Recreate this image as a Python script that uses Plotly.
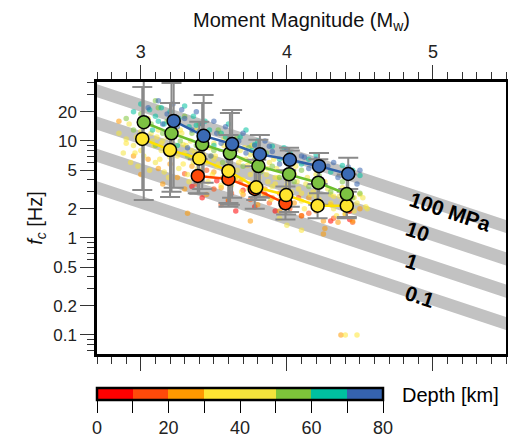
import numpy as np
import plotly.graph_objects as go

# ---- depth bins (km) and their colours ----
depth_edges = [0, 10, 20, 30, 40, 50, 60, 70, 80]
depth_colors = ["#FF0000", "#FF4A0A", "#FF9900", "#FFE633",
                "#F3E33C", "#7DC43A", "#00C1A0", "#3563AE"]

# ---- individual events: (Mw, fc [Hz]) per depth bin ----
ev_0_10 = [(3.35, 3.4), (3.42, 2.6), (3.52, 3.9), (3.6, 2.4), (3.7, 3.1), (3.78, 2.1),
           (3.85, 2.8), (3.92, 1.9), (4.0, 2.4), (4.1, 1.7), (4.2, 2.0), (4.3, 1.5),
           (4.43, 1.9), (4.43, 1.55), (3.65, 1.9)]
ev_10_20 = [(3.3, 4.6), (3.38, 3.6), (3.45, 5.0), (3.5, 3.2), (3.58, 4.4), (3.62, 2.9),
            (3.68, 3.8), (3.75, 2.5), (3.8, 3.4), (3.88, 2.3), (3.95, 2.9), (4.02, 2.0),
            (4.08, 2.6), (4.15, 1.8), (4.22, 2.2), (4.32, 1.6), (4.42, 1.9), (4.45, 1.45),
            (3.55, 2.2)]
ev_20_30 = [(2.85, 16), (2.95, 7), (3.0, 4.5), (3.05, 6.5), (3.12, 5.2), (3.15, 3.6),
            (3.2, 5.8), (3.25, 4.2), (3.3, 3.2), (3.35, 5.5), (3.4, 3.8), (3.45, 2.8),
            (3.5, 4.8), (3.55, 3.3), (3.6, 2.5), (3.65, 4.2), (3.7, 2.8), (3.75, 3.6),
            (3.8, 2.2), (3.85, 3.2), (3.9, 2.6), (3.95, 1.9), (4.0, 3.0), (4.05, 2.3),
            (4.1, 1.7), (4.15, 2.6), (4.2, 1.9), (4.25, 1.5), (4.3, 2.2), (4.35, 1.45),
            (4.4, 1.75), (4.45, 1.5), (4.5, 2.0), (3.32, 1.8), (3.75, 1.5), (4.37, 0.1),
            (4.26, 1.25), (4.25, 1.1)]
ev_30_40 = [(2.9, 9.5), (2.93, 6), (2.97, 11), (3.0, 8), (3.03, 14), (3.06, 5), (3.09, 9),
            (3.11, 11), (3.13, 6.5), (3.17, 8.5), (3.19, 4.2), (3.21, 10), (3.25, 7),
            (3.27, 13), (3.29, 5.8), (3.31, 9), (3.33, 3.8), (3.37, 7.5), (3.39, 5.2),
            (3.41, 10), (3.45, 6), (3.47, 8.5), (3.49, 4.5), (3.51, 7), (3.55, 3.5),
            (3.57, 9), (3.59, 5.2), (3.61, 7), (3.65, 4), (3.67, 6), (3.69, 3), (3.71, 8.5),
            (3.75, 4.5), (3.77, 6.2), (3.79, 3.3), (3.83, 5), (3.87, 3.8), (3.89, 2.5),
            (3.91, 6.5), (3.94, 4.2), (3.98, 3.2), (4.02, 2.2), (4.05, 4.6), (4.08, 3.2),
            (4.12, 2.0), (4.18, 3.0), (4.22, 2.5), (4.26, 3.8), (4.3, 2.3), (4.34, 1.7),
            (4.38, 3.3), (4.42, 2.4), (4.46, 1.9), (4.5, 2.8), (4.54, 2.1), (4.1, 1.2),
            (4.4, 0.1), (4.48, 0.1), (2.96, 7.5), (3.04, 10.5), (3.14, 9.5), (3.23, 8.2),
            (3.34, 6.8), (3.43, 7.2), (3.53, 5.8), (3.62, 5.2), (3.73, 5.6), (3.81, 4.2),
            (3.92, 3.6), (4.0, 3.5), (4.1, 2.9), (4.2, 2.7), (4.32, 2.7), (4.44, 2.1)]
ev_40_50 = [(2.85, 12), (2.88, 7.5), (2.92, 15), (2.95, 9), (2.98, 5.5), (3.0, 12.5),
            (3.02, 7), (3.05, 17), (3.08, 10), (3.1, 6), (3.12, 13), (3.14, 8), (3.16, 4.8),
            (3.18, 11), (3.2, 6.8), (3.22, 15), (3.24, 9), (3.26, 5.2), (3.28, 12),
            (3.3, 7.5), (3.32, 4.5), (3.34, 10), (3.36, 6), (3.38, 13), (3.4, 8.2),
            (3.42, 5), (3.44, 11), (3.46, 3.8), (3.48, 7), (3.5, 9.5), (3.52, 5.5),
            (3.54, 12), (3.56, 4.2), (3.58, 7.8), (3.6, 6), (3.62, 3.5), (3.64, 10),
            (3.66, 5), (3.68, 8), (3.7, 4), (3.72, 6.5), (3.74, 3.2), (3.76, 9), (3.78, 5),
            (3.8, 3.8), (3.82, 7), (3.84, 2.8), (3.86, 4.5), (3.88, 6), (3.9, 3.4),
            (3.93, 5.2), (3.96, 2.6), (4.0, 4), (4.03, 3), (4.06, 5.5), (4.1, 2.4),
            (4.13, 3.6), (4.16, 2.8), (4.2, 4.5), (4.24, 2.2), (4.28, 3.2), (4.32, 2.0),
            (4.36, 2.7), (4.4, 1.8), (4.44, 3.0), (4.48, 2.3), (4.52, 2.6), (4.55, 2.0),
            (4.0, 1.35), (3.95, 1.6), (2.9, 10.5), (3.0, 9.5), (3.07, 12), (3.15, 10),
            (3.23, 11.5), (3.29, 9.2), (3.35, 8), (3.43, 9), (3.5, 6.5), (3.57, 10.5),
            (3.63, 7.5), (3.69, 6.5), (3.75, 7.2), (3.81, 5.6), (3.87, 5.2), (3.92, 4.2),
            (3.99, 4.8), (4.07, 3.8), (4.14, 4.2), (4.22, 3.4), (4.3, 2.8), (4.38, 2.4),
            (4.46, 2.6)]
ev_50_60 = [(2.9, 17), (2.95, 13), (3.0, 19), (3.03, 11), (3.07, 15), (3.1, 9), (3.12, 22),
            (3.15, 12), (3.18, 16), (3.2, 8.5), (3.23, 14), (3.27, 10), (3.3, 18),
            (3.32, 7), (3.35, 12), (3.38, 9), (3.4, 15), (3.43, 6.5), (3.46, 11), (3.5, 8),
            (3.53, 13), (3.56, 6), (3.6, 9.5), (3.63, 7.2), (3.66, 11), (3.7, 5.5),
            (3.74, 8.5), (3.78, 6.5), (3.82, 4.8), (3.86, 7.5), (3.9, 5.5), (3.95, 4.2),
            (4.0, 6), (4.05, 3.8), (4.1, 5), (4.15, 3.4), (4.22, 4.4), (4.3, 3.0),
            (4.38, 3.8), (4.45, 2.6), (4.5, 2.9), (3.1, 26)]
ev_60_70 = [(2.95, 20), (3.0, 24), (3.02, 17), (3.06, 21), (3.08, 13), (3.1, 18),
            (3.14, 22), (3.16, 15), (3.2, 20), (3.22, 12.5), (3.26, 17), (3.3, 23),
            (3.33, 14), (3.36, 18), (3.4, 11), (3.44, 16), (3.47, 13), (3.5, 9), (3.55, 12),
            (3.6, 15), (3.64, 9.5), (3.68, 11), (3.72, 13), (3.76, 8), (3.8, 10),
            (3.85, 7.2), (3.9, 8.8), (3.95, 6.5), (4.02, 7.5), (4.1, 5.8), (4.2, 7.2),
            (4.3, 4.8), (4.45, 5.0), (4.5, 4.4), (3.25, 9), (3.12, 16), (3.38, 14.5),
            (3.58, 11), (3.78, 9.2), (3.98, 8.5), (4.15, 6.5), (4.38, 5.6)]
ev_70_80 = [(3.05, 22), (3.12, 26), (3.18, 19), (3.22, 24), (3.25, 14), (3.28, 21),
            (3.3, 17), (3.35, 13), (3.38, 20), (3.42, 15), (3.45, 11), (3.5, 16),
            (3.52, 12), (3.55, 9.5), (3.58, 14), (3.62, 10.5), (3.65, 8.5), (3.7, 12),
            (3.72, 7.5), (3.78, 9), (3.82, 6.8), (3.85, 10), (3.9, 7.8), (3.95, 5.8),
            (4.0, 8.2), (4.05, 6.2), (4.1, 7), (4.15, 5.2), (4.2, 6.5), (4.28, 5.5),
            (4.35, 4.2), (4.42, 5.4), (4.48, 3.6), (3.32, 8.5), (3.48, 7), (3.6, 6.2),
            (3.15, 15), (3.4, 12.5), (3.67, 10), (3.88, 8.8), (4.12, 6.8), (4.32, 6),
            (4.5, 5.0)]
events_by_bin = [ev_0_10, ev_10_20, ev_20_30, ev_30_40, ev_40_50, ev_50_60, ev_60_70, ev_70_80]

# ---- binned means with spread (lower / upper fc) ----
mean_70_80_mw = [3.225, 3.43, 3.625, 3.815, 4.02, 4.22, 4.42]
mean_70_80_fc = [16.1, 11.3, 9.3, 7.3, 6.4, 5.5, 4.57]
mean_70_80_hi = [50, 29.8, 20.9, 11.5, 8.0, 7.5, 6.7]
mean_70_80_lo = [3.3, 3.7, 2.6, 2.6, 2.1, 2.9, 3.2]

mean_50_60_mw = [3.02, 3.21, 3.42, 3.61, 3.805, 4.015, 4.215, 4.41]
mean_50_60_fc = [15.6, 12.0, 9.25, 7.47, 5.52, 4.54, 3.71, 2.84]
mean_50_60_hi = [55, 39.7, 24.6, 19.4, 10.3, 8.5, 6.5, 4.5]
mean_50_60_lo = [2.47, 3.0, 3.2, 2.2, 2.65, 1.85, 2.2, 1.65]

mean_30_40_mw = [3.01, 3.2, 3.4, 3.6, 3.79, 3.995, 4.21, 4.41]
mean_30_40_fc = [10.5, 8.07, 6.58, 4.91, 3.33, 2.77, 2.15, 2.15]
mean_30_40_hi = [36.1, 24.6, 15.8, 11.5, 6.4, 5.0, 3.6, 3.0]
mean_30_40_lo = [3.12, 2.65, 2.85, 2.3, 2.47, 1.75, 1.6, 1.6]

mean_10_20_mw = [3.39, 3.6, 3.78, 3.99]
mean_10_20_fc = [4.36, 4.06, 3.2, 2.28]
mean_10_20_hi = [6.5, 8.0, 5.5, 3.4]
mean_10_20_lo = [2.9, 2.1, 2.0, 1.55]

means = [
    (mean_10_20_mw, mean_10_20_fc, mean_10_20_lo, mean_10_20_hi, "#FF4A0A", "#FF4500"),
    (mean_30_40_mw, mean_30_40_fc, mean_30_40_lo, mean_30_40_hi, "#FFE52E", "#FFE000"),
    (mean_50_60_mw, mean_50_60_fc, mean_50_60_lo, mean_50_60_hi, "#7DC242", "#6CBE2E"),
    (mean_70_80_mw, mean_70_80_fc, mean_70_80_lo, mean_70_80_hi, "#3A6AB4", "#2F5FAA"),
]

# ---- constant stress-drop reference lines (Brune model) ----
stress_drops_mpa = [0.1, 1, 10, 100]
stress_labels = ["0.1", "1", "10", "100 MPa"]
label_mw = [4.911, 4.856, 4.897, 5.116]
beta_kms = 3.5


def brune_fc(mw, dsig_mpa):
    m0 = 10 ** (1.5 * np.asarray(mw) + 16.1)          # dyne-cm
    return 4.906e6 * beta_kms * ((dsig_mpa * 10.0) / m0) ** (1.0 / 3.0)


FONT = "Liberation Sans, Arial, Helvetica, sans-serif"
fig = go.Figure()

band_mw = np.array([2.5, 5.7])
for ds in stress_drops_mpa:
    fig.add_trace(go.Scatter(x=band_mw, y=brune_fc(band_mw, ds), mode="lines",
                             line=dict(color="#C2C2C2", width=12.5),
                             hoverinfo="skip", showlegend=False))

# event cloud
for pts, col in zip(events_by_bin, depth_colors):
    fig.add_trace(go.Scatter(x=[p[0] for p in pts], y=[p[1] for p in pts], mode="markers",
                             marker=dict(color=col, size=5.5, opacity=0.55, line=dict(width=0)),
                             showlegend=False))

# spread bars, drawn beneath all mean markers
for mw, fc, lo, hi, col, lcol in means:
    up = [h - f for h, f in zip(hi, fc)]
    dn = [f - l for f, l in zip(fc, lo)]
    fig.add_trace(go.Scatter(x=mw, y=fc, mode="markers",
                             marker=dict(size=1, color="rgba(0,0,0,0)"),
                             error_y=dict(type="data", array=up, arrayminus=dn,
                                          color="#8A8A8A", thickness=2, width=10),
                             showlegend=False, hoverinfo="skip"))

for mw, fc, lo, hi, col, lcol in means:
    fig.add_trace(go.Scatter(x=mw, y=fc, mode="lines+markers",
                             line=dict(color=lcol, width=2.5),
                             marker=dict(color=col, size=13, line=dict(color="black", width=1.5)),
                             showlegend=False))

# depth colour bar (discrete)
cscale = []
for i, c in enumerate(depth_colors):
    cscale.append([i / len(depth_colors), c])
    cscale.append([(i + 1) / len(depth_colors), c])
fig.add_trace(go.Scatter(
    x=[None], y=[None], mode="markers",
    marker=dict(color=[0], cmin=0, cmax=80, colorscale=cscale, showscale=True,
                colorbar=dict(orientation="h", x=0, xanchor="left", y=-0.125, yanchor="top",
                              len=286, lenmode="pixels", thickness=12,
                              outlinewidth=2.5, outlinecolor="black",
                              xpad=0, ypad=0,
                              tickvals=depth_edges,
                              ticktext=["0", "", "20", "", "40", "", "60", "", "80"],
                              ticks="outside", ticklen=12, tickwidth=1, tickcolor="black",
                              tickfont=dict(family=FONT, size=18, color="#222"))),
    showlegend=False, hoverinfo="skip"))

annotations = []
for ds, txt, m in zip(stress_drops_mpa, stress_labels, label_mw):
    annotations.append(dict(x=m, y=float(np.log10(brune_fc(m, ds))), xref="x", yref="y",
                            text="<b>%s</b>" % txt, showarrow=False, textangle=18.4,
                            yshift=-4 if ds == 100 else -2,
                            font=dict(family=FONT, size=21, color="black")))
# colour-bar label, placed to the right of the bar
annotations.append(dict(x=(400 - 97) / 409, y=-(395 - 354) / 272, xref="paper", yref="paper",
                        text="Depth [km]", showarrow=False, xanchor="left", yanchor="middle",
                        font=dict(family=FONT, size=20, color="black")))

y_major = [0.1, 0.2, 0.5, 1, 2, 5, 10, 20]
y_minor = [0.07, 0.08, 0.09, 0.3, 0.4, 0.6, 0.7, 0.8, 0.9, 3, 4, 6, 7, 8, 9, 30, 40]
x_major = [3, 4, 5]
x_minor = [round(2.7 + 0.1 * i, 1) for i in range(29)]

fig.update_layout(
    width=508, height=441,
    margin=dict(l=97, r=2, t=82, b=87, autoexpand=False),
    paper_bgcolor="white", plot_bgcolor="white",
    font=dict(family=FONT, color="#222"),
    annotations=annotations,
    xaxis=dict(range=[2.7, 5.5], side="top", showgrid=False, zeroline=False,
               showline=True, linecolor="black", linewidth=2.5, mirror="ticks",
               ticks="outside", ticklen=14, tickwidth=1, tickcolor="#333",
               tickvals=x_major, tickfont=dict(size=18, color="#222"),
               minor=dict(tickvals=x_minor, ticks="outside", ticklen=7, tickwidth=1,
                          tickcolor="#333", showgrid=False),
               title=dict(text="Moment Magnitude (M<sub>w</sub>)",
                          font=dict(size=20, color="#111"), standoff=10)),
    yaxis=dict(type="log", range=[-1.196, 1.608], showgrid=False, zeroline=False,
               showline=True, linecolor="black", linewidth=2.5, mirror="ticks",
               ticks="outside", ticklen=14, tickwidth=1, tickcolor="#333",
               tickvals=y_major, ticktext=[str(v) for v in y_major],
               tickfont=dict(size=17, color="#222"),
               minor=dict(tickvals=y_minor, ticks="outside", ticklen=7, tickwidth=1,
                          tickcolor="#333", showgrid=False),
               title=dict(text="<i>f<sub>c</sub></i> [Hz]",
                          font=dict(size=20, color="#111"), standoff=6)),
)

fig.write_html("out.html")
